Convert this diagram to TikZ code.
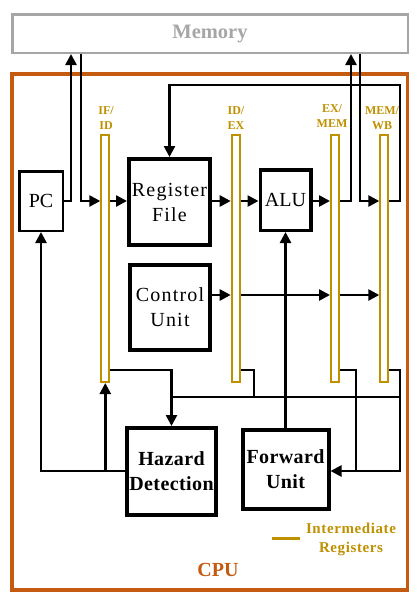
\documentclass[tikz,border=0pt]{standalone}
\usepackage{fontspec}
\setmainfont{Liberation Serif}
\usetikzlibrary{arrows.meta}
\definecolor{memgray}{RGB}{166,166,166}
\definecolor{cpuorange}{RGB}{197,90,17}
\definecolor{reggold}{RGB}{191,144,0}
\begin{document}
\begin{tikzpicture}[x=1pt,y=-1pt,
  conn/.style={line width=2.5pt},
  arr/.style={conn,-{Triangle[length=11pt,width=11pt]}},
  unitbox/.style={draw, inner sep=0pt, align=center, font=\fontsize{20}{25}\selectfont},
  pipereg/.style={draw=reggold, line width=2pt, fill=white, minimum width=8pt, minimum height=247pt, inner sep=0pt},
  reglabel/.style={text=reggold, font=\bfseries\fontsize{12}{15}\selectfont, align=center, inner sep=0pt}
]
\useasboundingbox (0,0) rectangle (416,600);
% frames
\node[draw=memgray, line width=2.5pt, minimum width=395.5pt, minimum height=38.5pt, inner sep=0pt,
  text=memgray, font=\bfseries\fontsize{20.5}{24}\selectfont] (mem) at (210,33.5) {Memory};
\node[draw=cpuorange, line width=3.5pt, minimum width=395.5pt, minimum height=516pt, inner sep=0pt] (cpu) at (209.5,332) {};
\node[text=cpuorange, font=\bfseries\fontsize{20}{24}\selectfont, inner sep=0pt] (cpulabel) at (218,570) {CPU};
% pipeline registers
\node[pipereg] (ifid) at (105.3,258.5) {};
\node[pipereg] (idex) at (235.7,258.5) {};
\node[pipereg] (exmem) at (335,258.5) {};
\node[pipereg] (memwb) at (384.3,258.5) {};
\node[reglabel] (lifid) at (106,118.5) {IF/\\ID};
\node[reglabel] (lidex) at (236,118.5) {ID/\\EX};
\node[reglabel] (lexmem) at (332,116.5) {EX/\\MEM};
\node[reglabel] (lmemwb) at (382,118.5) {MEM/\\WB};
% units
\node[unitbox, line width=2.5pt, minimum width=43.5pt, minimum height=59.5pt] (pc) at (41,201) {PC};
\node[unitbox, line width=4pt, minimum width=81pt, minimum height=86pt, font=\fontsize{20}{25}\selectfont\addfontfeature{LetterSpace=6}] (rf) at (169.5,202) {Register\\File};
\node[unitbox, line width=3.5pt, minimum width=50.5pt, minimum height=60.5pt] (alu) at (285.5,200) {ALU};
\node[unitbox, line width=4pt, minimum width=80pt, minimum height=85pt, font=\fontsize{20}{25}\selectfont\addfontfeature{LetterSpace=6}] (cu) at (170,307.5) {Control\\Unit};
\node[unitbox, line width=4pt, minimum width=89pt, minimum height=87pt, font=\bfseries\fontsize{20}{25}\selectfont\addfontfeature{LetterSpace=2}] (hd) at (171.5,471.5) {Hazard\\Detection};
\node[unitbox, line width=4pt, minimum width=86pt, minimum height=79pt, font=\bfseries\fontsize{20}{25}\selectfont\addfontfeature{LetterSpace=2}] (fu) at (285.5,469.5) {Forward\\Unit};
% legend
\coordinate (lga) at (272,538);
\coordinate (lgb) at (300,538);
\draw[reggold, line width=3pt] (lga) -- (lgb);
\node[text=reggold, font=\bfseries\fontsize{15}{19}\selectfont\addfontfeature{LetterSpace=4}, align=center, inner sep=0pt] (lgtext) at (351,539) {Intermediate\\Registers};
% helper coordinates
\coordinate (ymain) at (0,201);
\coordinate (yctl) at (0,295);
\coordinate (yout) at (0,370);
\coordinate (ybus) at (0,397);
\coordinate (ylow) at (0,471);
\coordinate (ytop) at (0,85);
\coordinate (xpcm) at (71,0);
\coordinate (xmif) at (81,0);
\coordinate (xexm) at (351,0);
\coordinate (xmwb) at (360,0);
\coordinate (xr) at (400,0);
\coordinate (xid) at (254,0);
\coordinate (xem) at (356,0);
% main datapath
\draw[arr] (pc.east |- ymain) -| (xpcm |- mem.south);
\draw[arr] (xmif |- mem.south) |- (ifid.west |- ymain);
\draw[arr] (ifid.east |- ymain) -- (rf.west |- ymain);
\draw[arr] (rf.east |- ymain) -- (idex.west |- ymain);
\draw[arr] (idex.east |- ymain) -- (alu.west |- ymain);
\draw[arr] (alu.east |- ymain) -- (exmem.west |- ymain);
\draw[arr] (exmem.east |- ymain) -| (xexm |- mem.south);
\draw[arr] (xmwb |- mem.south) |- (memwb.west |- ymain);
\draw[arr] (memwb.east |- ymain) -| (xr |- ytop) -| (rf.north);
% control path
\draw[arr] (cu.east |- yctl) -- (idex.west |- yctl);
\draw[arr] (idex.east |- yctl) -- (exmem.west |- yctl);
\draw[arr] (exmem.east |- yctl) -- (memwb.west |- yctl);
% forwarding to ALU
\draw[arr] (fu.north) -- (alu.south);
% hazard detection inputs
\draw[arr] (ifid.east |- yout) -| (hd.north);
\draw[conn] (idex.east |- yout) -| (xid |- ybus);
\draw[conn] (hd.north |- ybus) -- (xr |- ybus);
% forward unit inputs
\draw[conn] (exmem.east |- yout) -| (xem |- ylow);
\draw[arr] (memwb.east |- yout) -| (xr |- ylow) -- (fu.east |- ylow);
% hazard outputs
\draw[arr] (hd.west |- ylow) -| (pc.south);
\draw[arr] (ifid.south |- ylow) -- (ifid.south);
\end{tikzpicture}
\end{document}
